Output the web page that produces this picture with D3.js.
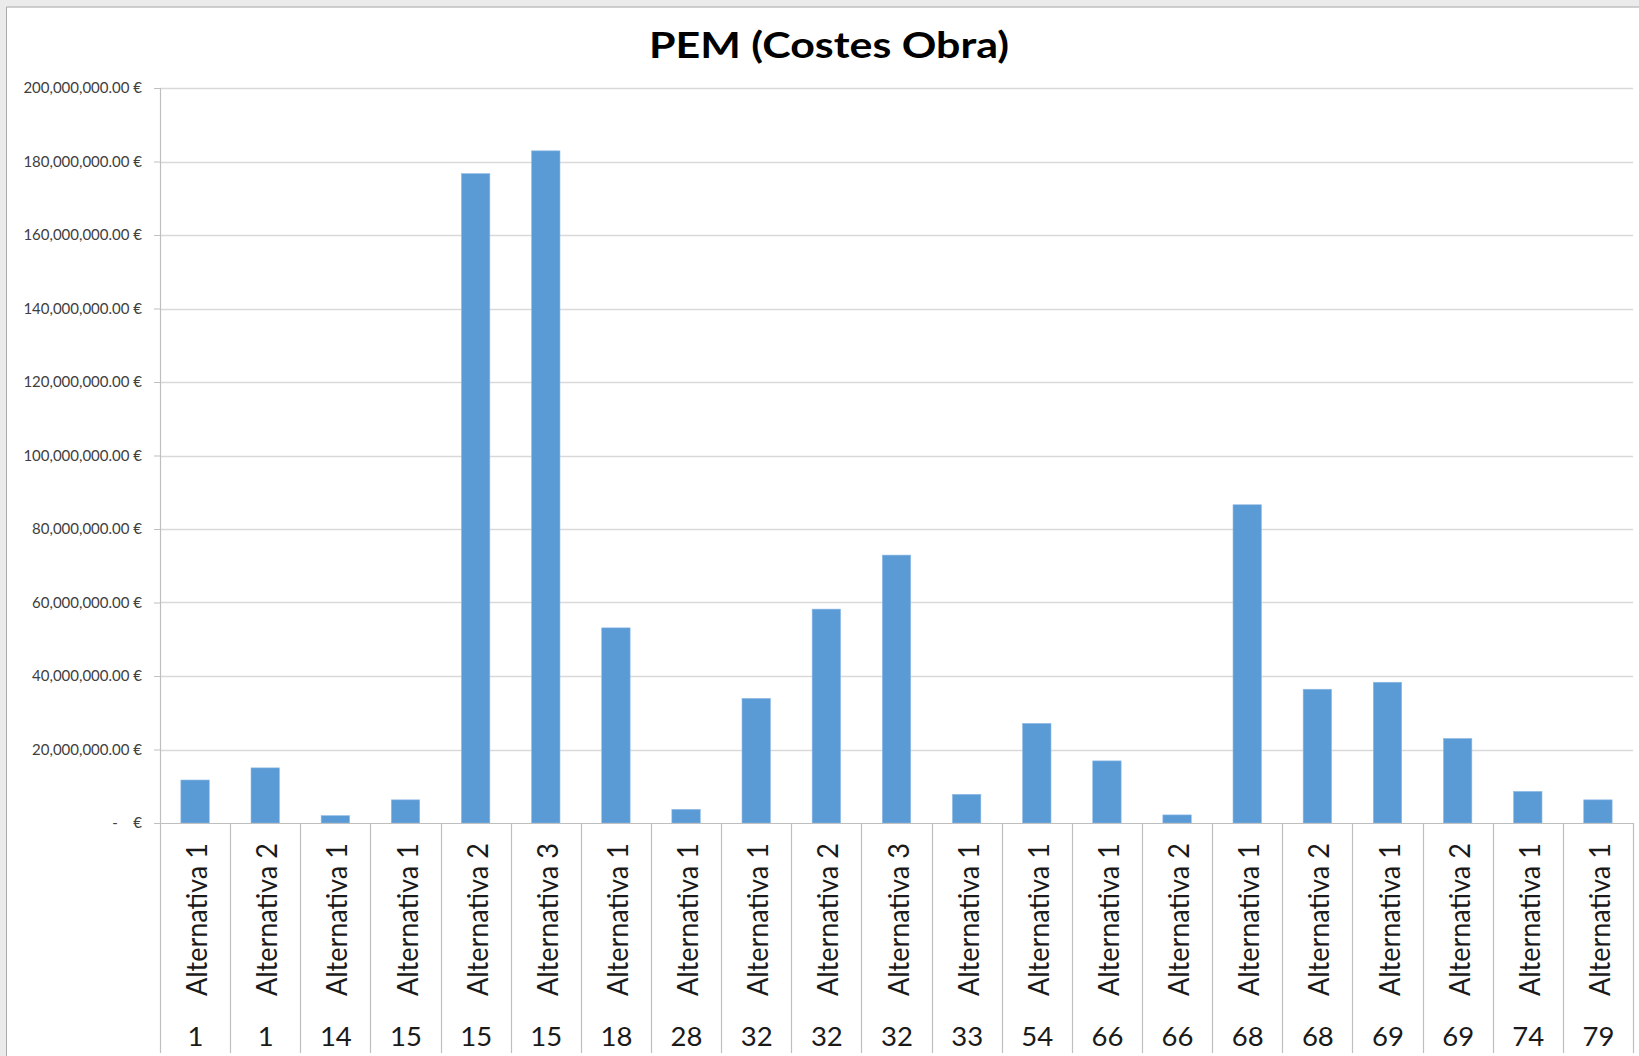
<!DOCTYPE html>
<html>
<head>
<meta charset="utf-8">
<script src="https://cdn.jsdelivr.net/npm/d3@7"></script>
<style>
  html, body { margin: 0; padding: 0; background: #ebebeb; }
  svg { display: block; }
</style>
</head>
<body>
<svg id="chart" width="1639" height="1056"></svg>
<script>
// ---- Data ----
const groups = ["1", "1", "14", "15", "15", "15", "18", "28", "32", "32", "32", "33", "54", "66", "66", "68", "68", "69", "69", "74", "79"];
const alternatives = ["Alternativa 1", "Alternativa 2", "Alternativa 1", "Alternativa 1", "Alternativa 2", "Alternativa 3",
  "Alternativa 1", "Alternativa 1", "Alternativa 1", "Alternativa 2", "Alternativa 3", "Alternativa 1", "Alternativa 1",
  "Alternativa 1", "Alternativa 2", "Alternativa 1", "Alternativa 2", "Alternativa 1", "Alternativa 2", "Alternativa 1", "Alternativa 1"];
const values = [11.7e6, 15.0e6, 2.0e6, 6.3e6, 176.7e6, 182.9e6, 53.1e6, 3.7e6, 33.9e6, 58.2e6, 72.9e6, 7.8e6, 27.1e6,
  16.9e6, 2.2e6, 86.6e6, 36.4e6, 38.3e6, 23.0e6, 8.6e6, 6.3e6];
const yTicks = [0, 20e6, 40e6, 60e6, 80e6, 100e6, 120e6, 140e6, 160e6, 180e6, 200e6];
const title = "PEM (Costes Obra)";

// ---- Layout ----
const W = 1639, H = 1056;
const plot = { left: 160, right: 1633, top: 88, bottom: 823 };
const axisColor = "#bfbfbf", gridColor = "#d9d9d9", barColor = "#5b9bd5";

const svg = d3.select("#chart");

// frame (screenshot border)
svg.append("rect").attr("x", 0).attr("y", 0).attr("width", W).attr("height", H).attr("fill", "#ebebeb");
svg.append("rect").attr("x", 7).attr("y", 7.5).attr("width", W - 7).attr("height", H - 7.5).attr("fill", "#ffffff");
svg.append("path").attr("d", `M6.5,${H} V7 H${W}`).attr("fill", "none").attr("stroke", "#aaaaaa").attr("stroke-width", 1);

const idx = d3.range(values.length);
const x = d3.scaleBand().domain(idx).range([plot.left, plot.right]).padding(0);
const xBar = d3.scaleBand().domain(idx).range([plot.left, plot.right]).paddingInner(0.595).paddingOuter(0.2975);
const y = d3.scaleLinear().domain([0, 200e6]).range([plot.bottom, plot.top]);

// gridlines
svg.append("g").selectAll("line").data(yTicks.filter(d => d > 0)).join("line")
  .attr("x1", plot.left).attr("x2", plot.right)
  .attr("y1", d => Math.round(y(d)) + 0.5).attr("y2", d => Math.round(y(d)) + 0.5)
  .attr("stroke", gridColor).attr("stroke-width", 1.3);

// bars
svg.append("g").selectAll("rect").data(idx).join("rect")
  .attr("x", i => xBar(i))
  .attr("width", xBar.bandwidth())
  .attr("y", i => y(values[i]))
  .attr("height", i => y(0) - y(values[i]))
  .attr("fill", barColor)
  .attr("stroke", "#8fbbe6").attr("stroke-width", 0.6);

// y axis
const fmt = d3.format(",.2f");
const yAxis = d3.axisLeft(y).tickValues(yTicks).tickSize(6).tickPadding(12)
  .tickFormat(d => d === 0 ? "-\u00A0\u00A0\u00A0\u00A0€" : fmt(d) + " €");
const gy = svg.append("g").attr("transform", `translate(${plot.left},0)`).call(yAxis);
gy.select(".domain").remove();
gy.selectAll(".tick line").attr("stroke", axisColor);
gy.selectAll(".tick text").attr("fill", "#404040")
  .style("font-family", "Lato, 'Open Sans', sans-serif").style("font-size", "15px");
svg.append("line").attr("x1", plot.left + 0.5).attr("x2", plot.left + 0.5)
  .attr("y1", plot.top).attr("y2", 1053).attr("stroke", axisColor).attr("stroke-width", 1.2);

// category axis (multi-level)
svg.append("line").attr("x1", plot.left).attr("x2", plot.right)
  .attr("y1", plot.bottom + 0.5).attr("y2", plot.bottom + 0.5).attr("stroke", axisColor).attr("stroke-width", 1.2);
svg.append("g").selectAll("line").data(idx).join("line")
  .attr("x1", i => Math.round(x(i) + x.bandwidth()) + 0.5)
  .attr("x2", i => Math.round(x(i) + x.bandwidth()) + 0.5)
  .attr("y1", plot.bottom).attr("y2", 1053)
  .attr("stroke", axisColor).attr("stroke-width", 1.2);

svg.append("g").selectAll("text").data(idx).join("text")
  .attr("transform", i => `translate(${x(i) + x.bandwidth() / 2 + 1.5},996) rotate(-90) scale(1,1.08)`)
  .attr("dy", "0.36em")
  .attr("text-anchor", "start")
  .attr("fill", "#1a1a1a")
  .style("font-family", "Lato, 'Open Sans', sans-serif").style("font-size", "27px")
  .text(i => alternatives[i]);

svg.append("g").selectAll("text").data(idx).join("text")
  .attr("x", i => x(i) + x.bandwidth() / 2 + 0.5)
  .attr("y", 1046)
  .attr("text-anchor", "middle")
  .attr("fill", "#1a1a1a")
  .style("font-family", "Lato, 'Open Sans', sans-serif").style("font-size", "27.5px")
  .text(i => groups[i]);

// title
svg.append("text").attr("x", 829).attr("y", 58).attr("text-anchor", "middle")
  .attr("fill", "#000")
  .attr("textLength", 360).attr("lengthAdjust", "spacingAndGlyphs")
  .style("font-family", "Lato, 'Open Sans', sans-serif").style("font-weight", "bold").style("font-size", "37px")
  .text(title);
</script>
</body>
</html>
